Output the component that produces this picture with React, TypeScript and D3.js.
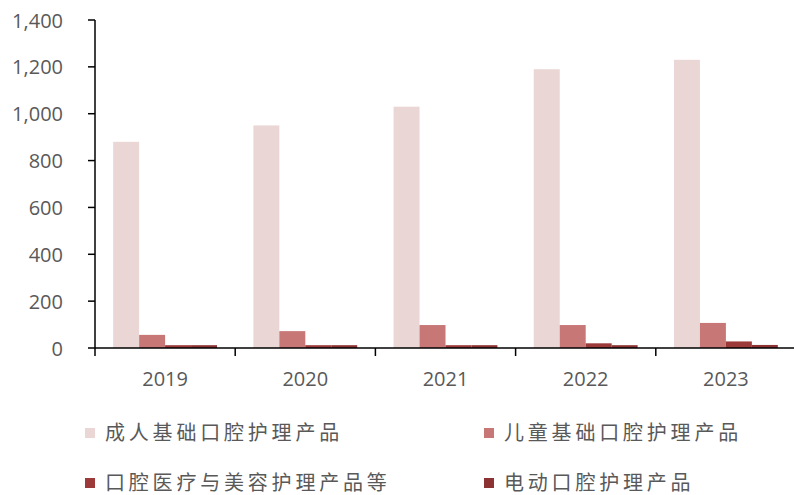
import React from 'react'
import * as d3 from 'd3'

const years = ['2019', '2020', '2021', '2022', '2023']
const seriesNames = ['成人基础口腔护理产品', '儿童基础口腔护理产品', '口腔医疗与美容护理产品等', '电动口腔护理产品']
const adultBasic = [880, 950, 1030, 1190, 1230]
const childBasic = [56, 72, 98, 98, 107]
const medicalBeauty = [12, 12, 12, 20, 28]
const electric = [12, 12, 12, 12, 13]
const yTicks = [0, 200, 400, 600, 800, 1000, 1200, 1400]
const colors = ['#EBD6D6', '#C87777', '#9B3A38', '#8D3232']

const W = 794
const H = 495
const axisColor = '#000'
const textColor = '#595959'

export default function App() {
  const values = [adultBasic, childBasic, medicalBeauty, electric]

  const x = d3.scaleBand<string>().domain(years).range([95, 796]).padding(0)
  const inner = d3
    .scaleBand<string>()
    .domain(seriesNames)
    .range([0, x.bandwidth()])
    .paddingInner(0)
    .paddingOuter(0.7)
  const y = d3.scaleLinear().domain([0, 1400]).range([348, 20])
  const fmt = d3.format(',')

  // legend layout: 2 x 2 grid
  const legendPos = [
    { x: 85, y: 433 },
    { x: 484, y: 433 },
    { x: 85, y: 483 },
    { x: 484, y: 483 },
  ]

  return (
    <svg width={W} height={H} style={{ position: 'absolute', left: 0, top: 0, background: '#fff' }}>
      {/* bars */}
      {values.map((arr, si) => (
        <g key={si} fill={colors[si]}>
          {arr.map((v, i) => (
            <rect
              key={i}
              x={x(years[i])! + inner(seriesNames[si])!}
              y={y(v)}
              width={inner.bandwidth()}
              height={y(0) - y(v)}
            />
          ))}
        </g>
      ))}

      {/* y axis */}
      <line x1={95} x2={95} y1={y(1400)} y2={y(0)} stroke={axisColor} strokeWidth={1.5} />
      {yTicks.map((t) => (
        <g key={t}>
          <line x1={88} x2={95} y1={y(t)} y2={y(t)} stroke={axisColor} strokeWidth={1.5} />
          <text
            x={63}
            y={y(t)}
            textAnchor="end"
            dominantBaseline="central"
            fontFamily="'Open Sans', sans-serif"
            fontSize={20}
            fill={textColor}
          >
            {fmt(t)}
          </text>
        </g>
      ))}

      {/* x axis */}
      <line x1={95} x2={794} y1={y(0)} y2={y(0)} stroke={axisColor} strokeWidth={1.5} />
      {years.map((yr) => (
        <line
          key={yr}
          x1={x(yr)!}
          x2={x(yr)!}
          y1={y(0)}
          y2={y(0) + 8}
          stroke={axisColor}
          strokeWidth={1.5}
        />
      ))}
      {years.map((yr) => (
        <text
          key={yr}
          x={x(yr)! + x.bandwidth() / 2}
          y={378}
          textAnchor="middle"
          dominantBaseline="central"
          fontFamily="'Open Sans', sans-serif"
          fontSize={20}
          fill={textColor}
        >
          {yr}
        </text>
      ))}

      {/* legend */}
      {seriesNames.map((name, i) => (
        <g key={name} transform={`translate(${legendPos[i].x},${legendPos[i].y})`}>
          <rect x={0} y={-5} width={10} height={10} fill={colors[i]} />
          <text
            x={20}
            y={7}
            fontFamily="'Noto Sans CJK SC', sans-serif"
            fontSize={20}
            letterSpacing={3.8}
            fill={textColor}
          >
            {name}
          </text>
        </g>
      ))}
    </svg>
  )
}
